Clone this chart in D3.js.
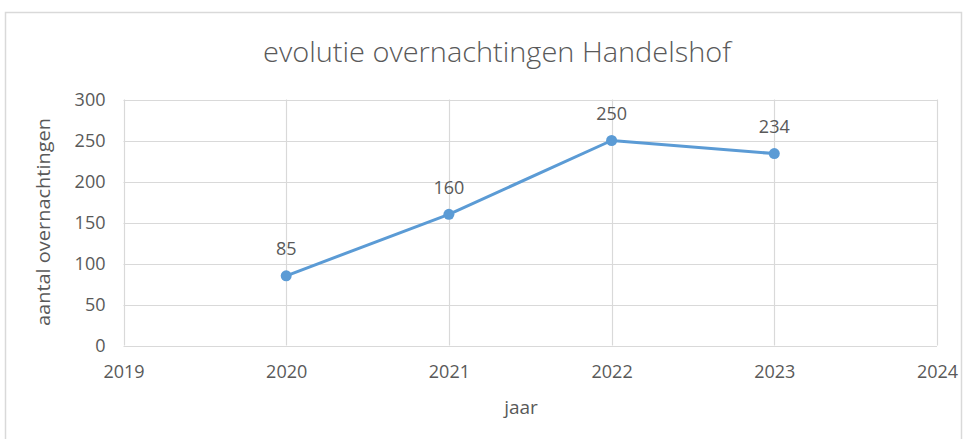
<!DOCTYPE html>
<html><head><meta charset="utf-8">
<script src="https://cdn.jsdelivr.net/npm/d3@7"></script>
<style>body{margin:0;background:#fff}svg{display:block}text{font-family:"Open Sans",sans-serif;fill:#595959}</style>
</head><body>
<svg id="c" width="972" height="439"></svg>
<script>
const years = [2020, 2021, 2022, 2023];
const values = [85, 160, 250, 234];
const xTicks = [2019, 2020, 2021, 2022, 2023, 2024];
const yTicks = [0, 50, 100, 150, 200, 250, 300];
const title = "evolutie overnachtingen Handelshof";
const xLabel = "jaar";
const yLabel = "aantal overnachtingen";

const svg = d3.select("#c");
const m = {l:123.5, r:937, t:99.5, b:345.5};
const x = d3.scaleLinear().domain([2019, 2024]).range([m.l, m.r]);
const y = d3.scaleLinear().domain([0, 300]).range([m.b, m.t]);
const fs = "18px";

svg.append("rect").attr("x",5.5).attr("y",12.5).attr("width",956).attr("height",440)
  .attr("fill","#fff").attr("stroke","#d9d9d9").attr("stroke-width",1.5);

// gridlines
svg.append("g").selectAll("line").data(yTicks).join("line")
  .attr("x1",m.l).attr("x2",m.r).attr("y1",d=>Math.round(y(d))+0.5).attr("y2",d=>Math.round(y(d))+0.5)
  .attr("stroke","#d9d9d9").attr("stroke-width",1.2);
svg.append("g").selectAll("line").data(xTicks).join("line")
  .attr("y1",m.t).attr("y2",m.b).attr("x1",d=>Math.round(x(d))+0.5).attr("x2",d=>Math.round(x(d))+0.5)
  .attr("stroke","#d9d9d9").attr("stroke-width",1.2);

const yAxis = svg.append("g").attr("transform",`translate(${m.l},0)`)
  .call(d3.axisLeft(y).tickValues(yTicks).tickSize(0).tickPadding(18));
const xAxis = svg.append("g").attr("transform",`translate(0,${m.b})`)
  .call(d3.axisBottom(x).tickValues(xTicks).tickFormat(d3.format("d")).tickSize(0).tickPadding(20));
[yAxis,xAxis].forEach(a=>{a.select(".domain").remove();a.selectAll("text").style("font-size",fs).style("fill","#595959").style("font-family","'Open Sans',sans-serif");});

// line
svg.append("path").datum(years.map((d,i)=>[d,values[i]]))
  .attr("fill","none").attr("stroke","#5b9bd5").attr("stroke-width",3).attr("stroke-linejoin","round")
  .attr("d",d3.line().x(d=>x(d[0])).y(d=>y(d[1])));
svg.append("g").selectAll("circle").data(years).join("circle")
  .attr("cx",d=>x(d)).attr("cy",(d,i)=>y(values[i])).attr("r",5.5).attr("fill","#5b9bd5");
svg.append("g").selectAll("text").data(years).join("text")
  .attr("x",d=>x(d)).attr("y",(d,i)=>y(values[i])-20.5).attr("text-anchor","middle")
  .style("font-size",fs).text((d,i)=>values[i]);

svg.append("text").attr("x",497).attr("y",62).attr("text-anchor","middle").style("font-size","27px").style("font-weight",300)
  .attr("textLength",468).attr("lengthAdjust","spacingAndGlyphs").text(title);
svg.append("text").attr("x",521).attr("y",414).attr("text-anchor","middle").style("font-size","19px").text(xLabel);
svg.append("text").attr("transform","translate(50,222) rotate(-90)").attr("text-anchor","middle").style("font-size","19px")
  .attr("textLength",208).attr("lengthAdjust","spacingAndGlyphs").text(yLabel);
</script>
</body></html>
